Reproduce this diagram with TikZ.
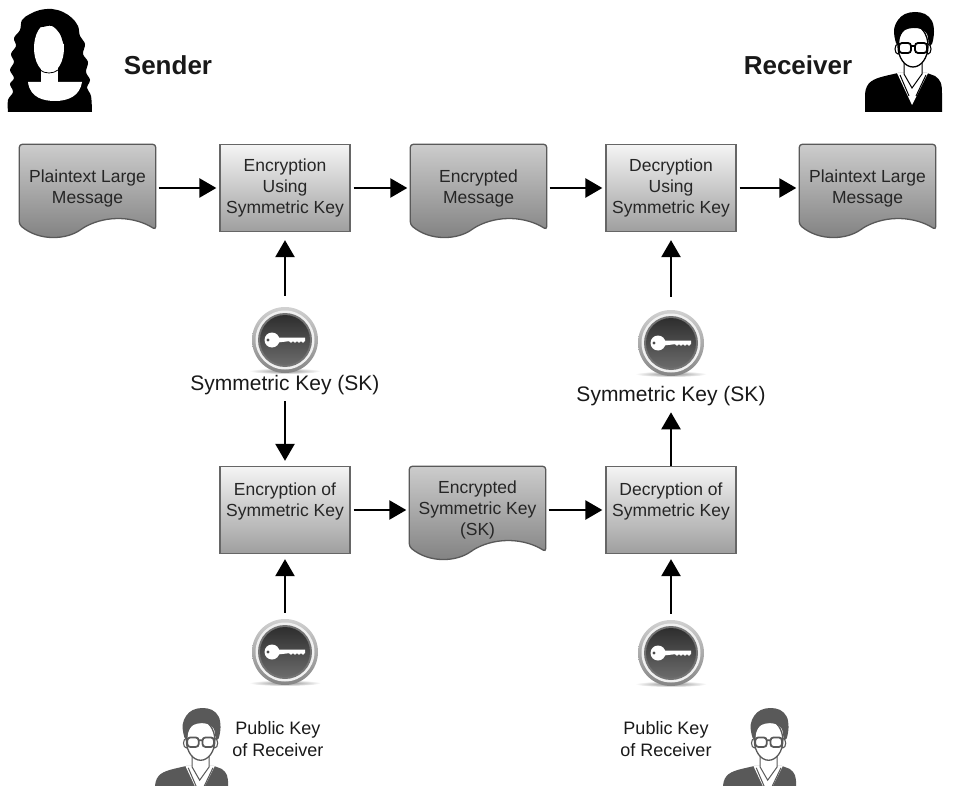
\documentclass[tikz,border=0pt]{standalone}
\usepackage{fontspec}
\setmainfont{Liberation Sans}
\usetikzlibrary{arrows.meta,calc,backgrounds}

\tikzset{
  procbox/.style={draw=black!60, line width=1.3pt, top color=black!4, bottom color=black!38,
    minimum width=130pt, minimum height=87pt, align=center, text=black!85,
    font=\fontsize{17.5}{21}\selectfont},
  doc/.style={minimum width=136pt, minimum height=87pt, align=center, text=black!85,
    font=\fontsize{17.5}{21}\selectfont},
  docshape/.style={draw=black!65, line width=1.3pt, top color=black!20, bottom color=black!50,
    rounded corners=3pt},
  flow/.style={-{Triangle[length=17pt,width=19pt]}, line width=2.5pt, shorten <=3pt, shorten >=3pt},
  keyicon/.style={circle, minimum size=66pt, inner sep=0pt},
  keytext/.style={font=\fontsize{21}{25}\selectfont, text=black!90},
  pktext/.style={font=\fontsize{18}{22}\selectfont, align=center, text=black!90},
  who/.style={font=\bfseries\fontsize{26}{30}\selectfont, text=black!90},
  pics/man/.style={code={
    % sweater
    \fill[#1] (0,100) -- (0,82) .. controls (1,70) and (8,67) .. (20,64) -- (33,61) -- (62,61)
      -- (70,64) .. controls (76,68) and (77,72) .. (77,82) -- (77,100) -- cycle;
    % neck and open collar
    \fill[white] (39,46) -- (39,61) -- (32,61) -- (47,93) -- (63,61) -- (57,61) -- (57,46) -- cycle;
    \draw[#1, line width=1pt] (39,48) -- (39,62) -- (47,76) -- (57,62) -- (57,48);
    \draw[#1, line width=1pt] (35,63) -- (44,84) (61,63) -- (51,84);
    % ears and face
    \filldraw[fill=white, draw=#1, line width=1.1pt] (33,37) ellipse [x radius=3, y radius=5]
      (63,37) ellipse [x radius=3, y radius=5];
    \filldraw[fill=white, draw=#1, line width=1.3pt] (48,34) ellipse [x radius=15, y radius=21];
    % hair
    \fill[#1] plot[smooth cycle, tension=0.6] coordinates {(31,31) (29,18) (33,8) (40,2) (50,0)
      (60,2) (67,9) (69,20) (67,32) (64,32) (62,22) (56,17) (48,16) (40,18) (35,24) (34,32)};
    % glasses
    \draw[#1, line width=1.8pt, rounded corners=3pt] (34,31) rectangle (46,41) (50,31) rectangle (62,41)
      (46,34) -- (50,34);
  }},
}

\begin{document}
\begin{tikzpicture}[x=1pt, y=-1pt]

    \clip (0,0) rectangle (958,786);

    % sender
    \fill[black] plot[smooth, tension=0.6] coordinates {(8,112) (8,100) (13,92) (10,84) (14,78)
      (10,70) (14,62) (11,54) (16,46) (14,38) (20,30) (22,20) (30,14) (40,10) (52,9) (63,12)
      (72,18) (78,26) (80,36) (85,44) (83,54) (88,62) (86,72) (90,80) (87,88) (91,96) (92,112)} -- cycle;
    \fill[white] (49,48) ellipse [x radius=15, y radius=25];
    \fill[white] (41,62) rectangle (58,84);
    \fill[white] (28,82) .. controls (30,98) and (44,101) .. (55,101)
      .. controls (68,101) and (80,96) .. (82,82) -- cycle;
    \fill[black] plot[smooth cycle, tension=0.6] coordinates {(34,26) (44,17) (58,18) (66,28) (64,44)
      (60,34) (52,26) (42,27)};
    \draw[black, line width=0.8pt] (40,70) .. controls (45,74) and (53,74) .. (58,70);
    \node[who] (sender) at (168,65) {Sender};

    % receiver
    \pic at (865,12) {man=black};
    \node[who] (receiver) at (798,65) {Receiver};

    \node[doc] (pt1) at (87.5,188) {Plaintext Large\\Message};
    \node[procbox] (enc) at (285,188) {Encryption\\Using\\Symmetric Key};
    \node[doc] (em) at (478.5,188) {Encrypted\\Message};
    \node[procbox] (dec) at (671,188) {Decryption\\Using\\Symmetric Key};
    \node[doc] (pt2) at (867.5,188) {Plaintext Large\\Message};

    \node[keyicon] (sk1) at (285,340) {};
    \node[keyicon] (sk2) at (671,343) {};

    \node[procbox] (enck) at (285,510) {Encryption of\\Symmetric Key\\\mbox{}};
    \node[doc] (esk) at (477.5,510) {Encrypted\\Symmetric Key\\(SK)};
    \node[procbox] (deck) at (671,510) {Decryption of\\Symmetric Key\\\mbox{}};

    \node[keyicon] (pk1) at (285,652) {};
    \node[keyicon] (pk2) at (671,653) {};
    \pic[scale=0.95] at (155,708) {man=black!65};
    \pic[scale=0.95] at (723,708) {man=black!65};

    % paper sheets with a wavy lower edge
    \begin{scope}[on background layer]
    \foreach \d in {pt1,em,pt2,esk}
        \path[docshape] (\d.west) -- (\d.north west) -- (\d.north east)
          -- ([yshift=2pt]\d.south east)
          .. controls ($(\d.south west)!0.85!(\d.south east)+(0pt,15pt)$)
                 and ($(\d.south west)!0.65!(\d.south east)+(0pt,17pt)$)
          .. ($(\d.south west)!0.47!(\d.south east)+(0pt,4pt)$)
          .. controls ($(\d.south west)!0.35!(\d.south east)+(0pt,-8pt)$)
                 and ($(\d.south west)!0.15!(\d.south east)+(0pt,-10pt)$)
          .. ([yshift=7pt]\d.south west) -- cycle;
    \end{scope}

    % key buttons
    \foreach \k in {sk1,sk2,pk1,pk2} {
        \begin{scope}[shift={(\k)}]
        \shade[inner color=black!45, outer color=white] (0,31) ellipse [x radius=36, y radius=3];
        \shade[top color=black!18, bottom color=black!48] (0,0) circle[radius=33];
        \fill[black!6] (0,0) circle[radius=29.5];
        \fill[black!55] (0,0) circle[radius=27];
        \shade[top color=black!82, bottom color=black!58] (0,0) circle[radius=25];
        \fill[white] (-13,0) circle[radius=7.5];
        \fill[white] (-7,-2.5) -- (20,-2.5) -- (20,1) -- (18,2.8) -- (16,1.2) -- (14,2.8) -- (12,1.2)
          -- (10,2.8) -- (8,1.2) -- (6,2.8) -- (4,1.2) -- (-7,2.5) -- cycle;
        \fill[black!70] (-17,0) circle[radius=1.6];
        \end{scope}
    }

    \node[keytext] (sklbl1) at (285,385) {Symmetric Key (SK)};
    \node[keytext] (sklbl2) at (671,396) {Symmetric Key (SK)};
    \node[pktext] (pklbl1) at (278,739) {Public Key\\of Receiver};
    \node[pktext] (pklbl2) at (666,739) {Public Key\\of Receiver};

    \draw[flow] (pt1) -- (enc);
    \draw[flow] (enc) -- (em);
    \draw[flow] (em) -- (dec);
    \draw[flow] (dec) -- (pt2);
    \draw[flow, shorten <=11pt, shorten >=8pt] (sk1) -- (enc);
    \draw[flow, shorten >=5pt] (sklbl1) -- (enck);
    \draw[flow, shorten <=6pt, shorten >=5pt] (pk1) -- (enck);
    \draw[flow] (enck) -- (esk);
    \draw[flow] (esk) -- (deck);
    \draw[flow, shorten <=13pt, shorten >=8pt] (sk2) -- (dec);
    \draw[flow, shorten <=0pt] (deck) -- (sklbl2);
    \draw[flow, shorten <=6pt, shorten >=5pt] (pk2) -- (deck);

\end{tikzpicture}
\end{document}
